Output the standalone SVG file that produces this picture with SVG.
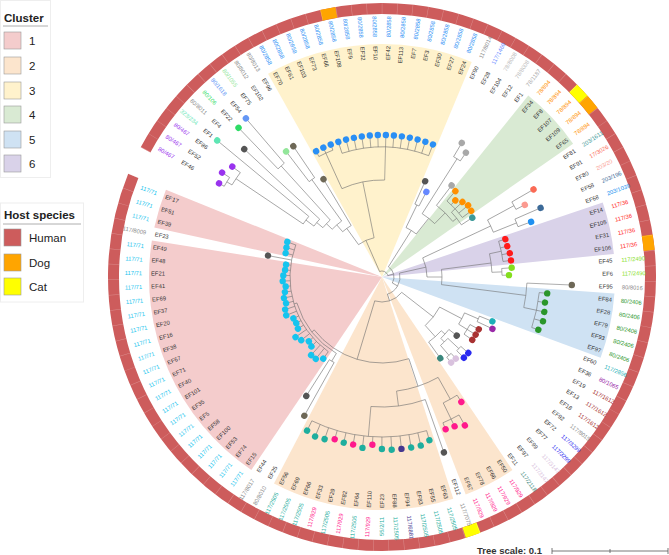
<svg xmlns="http://www.w3.org/2000/svg" width="669" height="555" viewBox="0 0 669 555">
<style>
.t{font-family:"Liberation Sans",Arial,sans-serif;font-size:5.8px}
.i{fill:#333}
.e2{text-anchor:end}
.ln{fill:none;stroke:#6e6e6e;stroke-width:.55}
.lg text{font-family:"Liberation Sans",Arial,sans-serif;font-size:11.5px;fill:#222}
.lg .hd{font-weight:bold}
.lg rect.k{stroke:#999;stroke-width:.6}
.seg{fill:none;stroke-width:11}
.dog{stroke:#ffa500}.cat{stroke:#ffff00}
.a{fill:#9933ee}.b{fill:#5ee6b4}.g{fill:#8a8a8a}.lgr{fill:#bbb}.lg2{fill:#a8a8a8}
.c{fill:#2edc66}.d{fill:#6497f5}.e{fill:#93e69a}.f{fill:#2a8ff5}.h{fill:#6688ff}
.o{fill:#ff9000}.tl{fill:#3f9a9a}.sa{fill:#fa6a55}.ls{fill:#fb9a90}.sb{fill:#3c6a98}
.bb{fill:#2090f0}.r{fill:#ff1a1a}.lm{fill:#84de1e}.dg{fill:#2a962a}.t2{fill:#1eb0b8}
.pu{fill:#9a2aa8}.brn{fill:#a83232}.bl{fill:#2a2af0}.lv{fill:#d9c2de}.t3{fill:#3a877c}
.pk{fill:#ff1a8c}.tq{fill:#1eae9e}.in{fill:#45388f}.cy{fill:#16c4ee}
.dk{fill:#555}.bgd{fill:#6e6857}
</style>
<rect width="669" height="555" fill="#fff"/>
<g transform="translate(382 277)">
<g id="wedges">
<path d="M0,0H233A233,233 0 0 1 98.87,210.98Z" transform="rotate(124.11)" fill="#f4cccc"/>
<path d="M0,0H233A233,233 0 0 1 229.64,39.4Z" transform="rotate(192.25)" fill="#f4cccc"/>
<path d="M0,0H233A233,233 0 0 1 227.05,52.34Z" transform="rotate(55.96)" fill="#fce5cd"/>
<path d="M0,0H233A233,233 0 0 1 163.52,165.98Z" transform="rotate(72.19)" fill="#fce5cd"/>
<path d="M0,0H233A233,233 0 0 1 143.72,183.39Z" transform="rotate(240.73)" fill="#fff2cc"/>
<path d="M0,0H233A233,233 0 0 1 223.72,65.11Z" transform="rotate(308.88)" fill="#d9ead3"/>
<path d="M0,0H233A233,233 0 0 1 223.72,65.11Z" transform="rotate(4.04)" fill="#cfe2f3"/>
<path d="M0,0H233A233,233 0 0 1 227.05,52.34Z" transform="rotate(341.33)" fill="#d9d2e9"/>
</g>
<g id="ring">
<circle r="268.5" fill="none" stroke="#cd5c5c" stroke-width="11" stroke-dasharray="1657.5 40" transform="rotate(208.28)"/>
<path class="seg dog" d="M268.39,-7.6A268.5,268.5 0 0 1 268.39,7.6" transform="rotate(258.58)"/>
<path class="seg cat" d="M268.39,-7.6A268.5,268.5 0 0 1 268.39,7.6" transform="rotate(316.99)"/>
<path class="seg dog" d="M268.39,-7.6A268.5,268.5 0 0 1 268.39,7.6" transform="rotate(320.23)"/>
<path class="seg dog" d="M268.39,-7.6A268.5,268.5 0 0 1 268.39,7.6" transform="rotate(352.68)"/>
<path class="seg cat" d="M268.39,-7.6A268.5,268.5 0 0 1 268.39,7.6" transform="rotate(70.56)"/>
<circle r="268.5" fill="none" stroke="#fff" stroke-opacity=".3" stroke-width="11" stroke-dasharray=".5 14.706" transform="rotate(208.28)"/>
</g>
<g id="connectors" class="ln">
<circle r="182" transform="rotate(209.9)" stroke-dasharray="10.32 2000"/>
<circle r="176" transform="rotate(211.53)" stroke-dasharray="15.02 2000"/>
<circle r="95" transform="rotate(213.95)" stroke-dasharray="9.43 2000"/>
<circle r="85" transform="rotate(216.8)" stroke-dasharray="9.02 2000"/>
<circle r="150" transform="rotate(226.13)" stroke-dasharray="8.48 2000"/>
<circle r="77" transform="rotate(219.84)" stroke-dasharray="10.63 2000"/>
<circle r="120" transform="rotate(232.62)" stroke-dasharray="6.79 2000"/>
<circle r="69" transform="rotate(223.8)" stroke-dasharray="12.57 2000"/>
<circle r="60" transform="rotate(229.02)" stroke-dasharray="10.57 2000"/>
<circle r="136" transform="rotate(242.35)" stroke-dasharray="15.4 2000"/>
<circle r="130" transform="rotate(252.09)" stroke-dasharray="88.35 2000"/>
<circle r="97" transform="rotate(245.6)" stroke-dasharray="43.95 2000"/>
<circle r="40" transform="rotate(234.07)" stroke-dasharray="17.12 2000"/>
<circle r="80" transform="rotate(294.27)" stroke-dasharray="4.54 2000"/>
<circle r="140" transform="rotate(300.76)" stroke-dasharray="7.94 2000"/>
<circle r="100" transform="rotate(310.5)" stroke-dasharray="22.65 2000"/>
<circle r="95" transform="rotate(317)" stroke-dasharray="16.12 2000"/>
<circle r="90" transform="rotate(307.25)" stroke-dasharray="23.01 2000"/>
<circle r="75" transform="rotate(302.4)" stroke-dasharray="15.97 2000"/>
<circle r="55" transform="rotate(295.9)" stroke-dasharray="12.1 2000"/>
<circle r="150" transform="rotate(329.97)" stroke-dasharray="8.48 2000"/>
<circle r="145" transform="rotate(336.46)" stroke-dasharray="8.2 2000"/>
<circle r="120" transform="rotate(331.6)" stroke-dasharray="13.61 2000"/>
<circle r="122" transform="rotate(342.95)" stroke-dasharray="20.72 2000"/>
<circle r="120" transform="rotate(355.93)" stroke-dasharray="6.79 2000"/>
<circle r="110" transform="rotate(347.8)" stroke-dasharray="18.72 2000"/>
<circle r="158" transform="rotate(365.66)" stroke-dasharray="35.79 2000"/>
<circle r="145" transform="rotate(362.42)" stroke-dasharray="24.62 2000"/>
<circle r="60" transform="rotate(352.7)" stroke-dasharray="15.29 2000"/>
<circle r="45" transform="rotate(334.85)" stroke-dasharray="19.75 2000"/>
<circle r="105" transform="rotate(381.89)" stroke-dasharray="5.94 2000"/>
<circle r="100" transform="rotate(388.38)" stroke-dasharray="11.33 2000"/>
<circle r="105" transform="rotate(401.36)" stroke-dasharray="5.94 2000"/>
<circle r="103" transform="rotate(407.85)" stroke-dasharray="5.82 2000"/>
<circle r="90" transform="rotate(402.98)" stroke-dasharray="10.19 2000"/>
<circle r="85" transform="rotate(398.11)" stroke-dasharray="12 2000"/>
<circle r="80" transform="rotate(402.2)" stroke-dasharray="16.95 2000"/>
<circle r="90" transform="rotate(383.51)" stroke-dasharray="12.72 2000"/>
<circle r="65" transform="rotate(387.57)" stroke-dasharray="23.48 2000"/>
<circle r="158" transform="rotate(420.83)" stroke-dasharray="17.9 2000"/>
<circle r="140" transform="rotate(417.58)" stroke-dasharray="15.86 2000"/>
<circle r="160" transform="rotate(433.81)" stroke-dasharray="117.79 2000"/>
<circle r="130" transform="rotate(430.56)" stroke-dasharray="55.23 2000"/>
<circle r="115" transform="rotate(420.8)" stroke-dasharray="43.96 2000"/>
<circle r="98" transform="rotate(479.24)" stroke-dasharray="5.54 2000"/>
<circle r="92" transform="rotate(485.73)" stroke-dasharray="119.83 2000"/>
<circle r="89" transform="rotate(480.86)" stroke-dasharray="65.46 2000"/>
<circle r="86" transform="rotate(431.77)" stroke-dasharray="105.31 2000"/>
<circle r="25" transform="rotate(397.9)" stroke-dasharray="30.08 2000"/>
<circle r="18" transform="rotate(347.4)" stroke-dasharray="26.7 2000"/>
<circle r="12" transform="rotate(302.2)" stroke-dasharray="18.37 2000"/>
<circle r="6" transform="rotate(246.3)" stroke-dasharray="10.45 2000"/>
<path d="M176,0H182" transform="rotate(211.53)"/>
<path d="M95,0H176" transform="rotate(213.95)"/>
<path d="M85,0H95" transform="rotate(216.8)"/>
<path d="M77,0H85" transform="rotate(219.84)"/>
<path d="M77,0H150" transform="rotate(227.75)"/>
<path d="M69,0H77" transform="rotate(223.8)"/>
<path d="M69,0H120" transform="rotate(234.24)"/>
<path d="M60,0H69" transform="rotate(229.02)"/>
<path d="M40,0H60" transform="rotate(234.07)"/>
<path d="M97,0H136" transform="rotate(245.6)"/>
<path d="M97,0H130" transform="rotate(271.56)"/>
<path d="M40,0H97" transform="rotate(258.58)"/>
<path d="M6,0H40" transform="rotate(246.3)"/>
<path d="M55,0H80" transform="rotate(295.9)"/>
<path d="M75,0H140" transform="rotate(302.4)"/>
<path d="M95,0H100" transform="rotate(317)"/>
<path d="M90,0H95" transform="rotate(321.86)"/>
<path d="M75,0H90" transform="rotate(314.6)"/>
<path d="M55,0H75" transform="rotate(308.5)"/>
<path d="M12,0H55" transform="rotate(302.2)"/>
<path d="M120,0H150" transform="rotate(331.6)"/>
<path d="M120,0H145" transform="rotate(338.1)"/>
<path d="M45,0H120" transform="rotate(334.85)"/>
<path d="M110,0H122" transform="rotate(347.8)"/>
<path d="M110,0H120" transform="rotate(357.55)"/>
<path d="M60,0H110" transform="rotate(352.7)"/>
<path d="M145,0H158" transform="rotate(372.15)"/>
<path d="M60,0H145" transform="rotate(367.3)"/>
<path d="M45,0H60" transform="rotate(360)"/>
<path d="M18,0H45" transform="rotate(347.4)"/>
<path d="M90,0H105" transform="rotate(383.51)"/>
<path d="M90,0H100" transform="rotate(391.62)"/>
<path d="M65,0H90" transform="rotate(387.57)"/>
<path d="M90,0H105" transform="rotate(402.98)"/>
<path d="M90,0H103" transform="rotate(409.47)"/>
<path d="M85,0H90" transform="rotate(406.2)"/>
<path d="M80,0H85" transform="rotate(402.2)"/>
<path d="M65,0H80" transform="rotate(408.27)"/>
<path d="M25,0H65" transform="rotate(397.9)"/>
<path d="M140,0H158" transform="rotate(424.07)"/>
<path d="M115,0H140" transform="rotate(420.8)"/>
<path d="M130,0H160" transform="rotate(454.9)"/>
<path d="M115,0H130" transform="rotate(442.73)"/>
<path d="M86,0H115" transform="rotate(431.77)"/>
<path d="M89,0H98" transform="rotate(480.86)"/>
<path d="M89,0H92" transform="rotate(523)"/>
<path d="M86,0H89" transform="rotate(501.93)"/>
<path d="M25,0H86" transform="rotate(466.85)"/>
<path d="M18,0H25" transform="rotate(432.38)"/>
<path d="M12,0H18" transform="rotate(389.89)"/>
<path d="M6,0H12" transform="rotate(346.05)"/>
<path d="M182,0H188" transform="rotate(209.9)"/>
<path d="M182,0H191" transform="rotate(213.15)"/>
<path d="M176,0H186" transform="rotate(216.39)"/>
<path d="M95,0H214" transform="rotate(219.64)"/>
<path d="M85,0H188" transform="rotate(222.88)"/>
<path d="M150,0H207" transform="rotate(226.13)"/>
<path d="M150,0H209" transform="rotate(229.37)"/>
<path d="M120,0H158" transform="rotate(232.62)"/>
<path d="M120,0H158" transform="rotate(235.86)"/>
<path d="M60,0H114" transform="rotate(239.11)"/>
<path d="M136,0H142" transform="rotate(242.35)"/>
<path d="M136,0H142" transform="rotate(245.6)"/>
<path d="M136,0H142" transform="rotate(248.84)"/>
<path d="M130,0H142" transform="rotate(252.09)"/>
<path d="M130,0H142" transform="rotate(255.33)"/>
<path d="M130,0H142" transform="rotate(258.58)"/>
<path d="M130,0H142" transform="rotate(261.82)"/>
<path d="M130,0H142" transform="rotate(265.07)"/>
<path d="M130,0H142" transform="rotate(268.31)"/>
<path d="M130,0H142" transform="rotate(271.56)"/>
<path d="M130,0H142" transform="rotate(274.8)"/>
<path d="M130,0H142" transform="rotate(278.05)"/>
<path d="M130,0H142" transform="rotate(281.29)"/>
<path d="M130,0H142" transform="rotate(284.54)"/>
<path d="M130,0H142" transform="rotate(287.78)"/>
<path d="M130,0H142" transform="rotate(291.03)"/>
<path d="M80,0H105" transform="rotate(294.27)"/>
<path d="M80,0H96" transform="rotate(297.52)"/>
<path d="M140,0H156" transform="rotate(300.76)"/>
<path d="M140,0H150" transform="rotate(304.01)"/>
<path d="M90,0H115" transform="rotate(307.25)"/>
<path d="M100,0H113" transform="rotate(310.5)"/>
<path d="M100,0H106" transform="rotate(313.74)"/>
<path d="M100,0H110" transform="rotate(316.99)"/>
<path d="M100,0H112" transform="rotate(320.23)"/>
<path d="M100,0H111" transform="rotate(323.48)"/>
<path d="M95,0H108" transform="rotate(326.72)"/>
<path d="M150,0H175" transform="rotate(329.97)"/>
<path d="M150,0H160" transform="rotate(333.21)"/>
<path d="M145,0H173" transform="rotate(336.46)"/>
<path d="M145,0H159" transform="rotate(339.7)"/>
<path d="M122,0H129" transform="rotate(342.95)"/>
<path d="M122,0H129" transform="rotate(346.19)"/>
<path d="M122,0H130" transform="rotate(349.44)"/>
<path d="M122,0H130" transform="rotate(352.68)"/>
<path d="M120,0H130" transform="rotate(355.93)"/>
<path d="M120,0H127" transform="rotate(359.17)"/>
<path d="M145,0H190" transform="rotate(362.42)"/>
<path d="M158,0H166" transform="rotate(365.66)"/>
<path d="M158,0H165" transform="rotate(368.91)"/>
<path d="M158,0H166" transform="rotate(372.15)"/>
<path d="M158,0H167" transform="rotate(375.4)"/>
<path d="M158,0H165" transform="rotate(378.64)"/>
<path d="M105,0H119" transform="rotate(381.89)"/>
<path d="M105,0H122" transform="rotate(385.13)"/>
<path d="M100,0H110" transform="rotate(388.38)"/>
<path d="M100,0H110" transform="rotate(391.62)"/>
<path d="M100,0H110" transform="rotate(394.87)"/>
<path d="M85,0H95" transform="rotate(398.11)"/>
<path d="M105,0H115" transform="rotate(401.36)"/>
<path d="M105,0H115" transform="rotate(404.6)"/>
<path d="M103,0H110" transform="rotate(407.85)"/>
<path d="M103,0H110" transform="rotate(411.09)"/>
<path d="M80,0H100" transform="rotate(414.34)"/>
<path d="M140,0H148" transform="rotate(417.58)"/>
<path d="M158,0H170" transform="rotate(420.83)"/>
<path d="M158,0H166" transform="rotate(424.07)"/>
<path d="M158,0H165" transform="rotate(427.32)"/>
<path d="M130,0H186" transform="rotate(430.56)"/>
<path d="M160,0H170" transform="rotate(433.81)"/>
<path d="M160,0H173" transform="rotate(437.05)"/>
<path d="M160,0H173" transform="rotate(440.3)"/>
<path d="M160,0H173" transform="rotate(443.54)"/>
<path d="M160,0H173" transform="rotate(446.79)"/>
<path d="M160,0H172" transform="rotate(450.03)"/>
<path d="M160,0H168" transform="rotate(453.28)"/>
<path d="M160,0H172" transform="rotate(456.52)"/>
<path d="M160,0H170" transform="rotate(459.77)"/>
<path d="M160,0H170" transform="rotate(463.01)"/>
<path d="M160,0H169" transform="rotate(466.26)"/>
<path d="M160,0H172" transform="rotate(469.5)"/>
<path d="M160,0H173" transform="rotate(472.75)"/>
<path d="M160,0H171" transform="rotate(475.99)"/>
<path d="M98,0H159" transform="rotate(479.24)"/>
<path d="M98,0H141" transform="rotate(482.48)"/>
<path d="M92,0H100.6" transform="rotate(125.73)"/>
<path d="M92,0H105.3" transform="rotate(128.97)"/>
<path d="M92,0H105.5" transform="rotate(132.22)"/>
<path d="M92,0H99" transform="rotate(135.46)"/>
<path d="M92,0H97.4" transform="rotate(138.71)"/>
<path d="M92,0H102.6" transform="rotate(141.95)"/>
<path d="M92,0H105.3" transform="rotate(145.2)"/>
<path d="M92,0H98.7" transform="rotate(148.44)"/>
<path d="M92,0H97.4" transform="rotate(151.69)"/>
<path d="M92,0H97.8" transform="rotate(154.93)"/>
<path d="M92,0H103.2" transform="rotate(158.18)"/>
<path d="M92,0H102.2" transform="rotate(161.42)"/>
<path d="M92,0H99.5" transform="rotate(164.67)"/>
<path d="M92,0H100.3" transform="rotate(167.91)"/>
<path d="M92,0H98.3" transform="rotate(171.16)"/>
<path d="M92,0H96.8" transform="rotate(174.4)"/>
<path d="M92,0H99.4" transform="rotate(177.65)"/>
<path d="M92,0H98.7" transform="rotate(180.89)"/>
<path d="M92,0H97.2" transform="rotate(184.14)"/>
<path d="M92,0H96.7" transform="rotate(187.38)"/>
<path d="M92,0H116" transform="rotate(190.63)"/>
<path d="M92,0H99.3" transform="rotate(193.87)"/>
<path d="M92,0H100" transform="rotate(197.12)"/>
<path d="M92,0H101" transform="rotate(200.36)"/>
</g>
<g id="leaves">
<g id="n1" transform="rotate(29.9)"><circle cx="-188" r="3.2" class="a"/><text class="t i" x="-231" y="2">EF46</text><text class="t a e2" x="-240" y="2">80/467</text></g>
<g id="n2" transform="rotate(33.15)"><circle cx="-191" r="3.2" class="a"/><text class="t i" x="-231" y="2">EF52</text><text class="t a e2" x="-240" y="2">80/467</text></g>
<g id="n3" transform="rotate(36.39)"><circle cx="-186" r="3.2" class="a"/><text class="t i" x="-231" y="2">EF86</text><text class="t a e2" x="-240" y="2">80/467</text></g>
<g id="n4" transform="rotate(39.64)"><circle cx="-214" r="3.2" class="b"/><text class="t i" x="-231" y="2">EF1</text><text class="t b e2" x="-240" y="2">323/234</text></g>
<g id="n5" transform="rotate(42.88)"><circle cx="-188" r="3.2" class="dk"/><text class="t i" x="-231" y="2">EF4</text><text class="t g e2" x="-240" y="2">80/8011</text></g>
<g id="n6" transform="rotate(46.13)"><circle cx="-207" r="3.2" class="c"/><text class="t i" x="-231" y="2">EF22</text><text class="t c e2" x="-240" y="2">80/106</text></g>
<g id="n7" transform="rotate(49.37)"><circle cx="-209" r="3.2" class="d"/><text class="t i" x="-231" y="2">EF54</text><text class="t d e2" x="-240" y="2">80/1618</text></g>
<g id="n8" transform="rotate(52.62)"><circle cx="-158" r="3.2" class="e"/><text class="t i" x="-231" y="2">EF75</text><text class="t e e2" x="-240" y="2">80/1055</text></g>
<g id="n9" transform="rotate(55.86)"><circle cx="-158" r="3.2" class="bgd"/><text class="t i" x="-231" y="2">EF102</text><text class="t g e2" x="-240" y="2">80/8012</text></g>
<g id="n10" transform="rotate(59.11)"><circle cx="-114" r="3.2" class="bgd"/><text class="t i" x="-231" y="2">EF96</text><text class="t g e2" x="-240" y="2">80/8013</text></g>
<g id="n11" transform="rotate(62.35)"><circle cx="-142" r="3.2" class="f"/><text class="t i" x="-231" y="2">EF70</text><text class="t f e2" x="-240" y="2">80/2858</text></g>
<g id="n12" transform="rotate(65.6)"><circle cx="-142" r="3.2" class="f"/><text class="t i" x="-231" y="2">EF61</text><text class="t f e2" x="-240" y="2">80/2858</text></g>
<g id="n13" transform="rotate(68.84)"><circle cx="-142" r="3.2" class="f"/><text class="t i" x="-231" y="2">EF103</text><text class="t f e2" x="-240" y="2">80/2858</text></g>
<g id="n14" transform="rotate(72.09)"><circle cx="-142" r="3.2" class="f"/><text class="t i" x="-231" y="2">EF73</text><text class="t f e2" x="-240" y="2">80/2858</text></g>
<g id="n15" transform="rotate(75.33)"><circle cx="-142" r="3.2" class="f"/><text class="t i" x="-231" y="2">EF66</text><text class="t f e2" x="-240" y="2">80/2858</text></g>
<g id="n16" transform="rotate(78.58)"><circle cx="-142" r="3.2" class="f"/><text class="t i" x="-231" y="2">EF108</text><text class="t f e2" x="-240" y="2">80/2858</text></g>
<g id="n17" transform="rotate(81.82)"><circle cx="-142" r="3.2" class="f"/><text class="t i" x="-231" y="2">EF9</text><text class="t f e2" x="-240" y="2">80/2858</text></g>
<g id="n18" transform="rotate(85.07)"><circle cx="-142" r="3.2" class="f"/><text class="t i" x="-231" y="2">EF32</text><text class="t f e2" x="-240" y="2">80/2858</text></g>
<g id="n19" transform="rotate(88.31)"><circle cx="-142" r="3.2" class="f"/><text class="t i" x="-231" y="2">EF10</text><text class="t f e2" x="-240" y="2">80/2858</text></g>
<g id="n20" transform="rotate(-88.44)"><circle cx="142" r="3.2" class="f"/><text class="t i e2" x="231" y="2">EF42</text><text class="t f" x="240" y="2">80/2858</text></g>
<g id="n21" transform="rotate(-85.2)"><circle cx="142" r="3.2" class="f"/><text class="t i e2" x="231" y="2">EF113</text><text class="t f" x="240" y="2">80/2858</text></g>
<g id="n22" transform="rotate(-81.95)"><circle cx="142" r="3.2" class="f"/><text class="t i e2" x="231" y="2">EF7</text><text class="t f" x="240" y="2">80/2858</text></g>
<g id="n23" transform="rotate(-78.71)"><circle cx="142" r="3.2" class="f"/><text class="t i e2" x="231" y="2">EF3</text><text class="t f" x="240" y="2">80/2858</text></g>
<g id="n24" transform="rotate(-75.46)"><circle cx="142" r="3.2" class="f"/><text class="t i e2" x="231" y="2">EF30</text><text class="t f" x="240" y="2">80/2858</text></g>
<g id="n25" transform="rotate(-72.22)"><circle cx="142" r="3.2" class="f"/><text class="t i e2" x="231" y="2">EF27</text><text class="t f" x="240" y="2">80/2858</text></g>
<g id="n26" transform="rotate(-68.97)"><circle cx="142" r="3.2" class="f"/><text class="t i e2" x="231" y="2">EF24</text><text class="t f" x="240" y="2">80/2858</text></g>
<g id="n27" transform="rotate(-65.73)"><circle cx="105" r="3.2" class="dk"/><text class="t i e2" x="231" y="2">EF90</text><text class="t g" x="240" y="2">117/8014</text></g>
<g id="n28" transform="rotate(-62.48)"><circle cx="96" r="3.2" class="h"/><text class="t i e2" x="231" y="2">EF28</text><text class="t h" x="240" y="2">117/1469</text></g>
<g id="n29" transform="rotate(-59.24)"><circle cx="156" r="3.2" class="lg2"/><text class="t i e2" x="231" y="2">EF104</text><text class="t lgr" x="240" y="2">78/8008</text></g>
<g id="n30" transform="rotate(-55.99)"><circle cx="150" r="3.2" class="lg2"/><text class="t i e2" x="231" y="2">EF12</text><text class="t lgr" x="240" y="2">78/8008</text></g>
<g id="n31" transform="rotate(-52.75)"><circle cx="115" r="3.2" class="lg2"/><text class="t i e2" x="231" y="2">EF1</text><text class="t lg2" x="240" y="2">78/1187</text></g>
<g id="n32" transform="rotate(-49.5)"><circle cx="113" r="3.2" class="o"/><text class="t i e2" x="231" y="2">EF34</text><text class="t o" x="240" y="2">78/894</text></g>
<g id="n33" transform="rotate(-46.26)"><circle cx="106" r="3.2" class="o"/><text class="t i e2" x="231" y="2">EF8</text><text class="t o" x="240" y="2">78/894</text></g>
<g id="n34" transform="rotate(-43.01)"><circle cx="110" r="3.2" class="o"/><text class="t i e2" x="231" y="2">EF107</text><text class="t o" x="240" y="2">78/894</text></g>
<g id="n35" transform="rotate(-39.77)"><circle cx="112" r="3.2" class="o"/><text class="t i e2" x="231" y="2">EF109</text><text class="t o" x="240" y="2">78/894</text></g>
<g id="n36" transform="rotate(-36.52)"><circle cx="111" r="3.2" class="o"/><text class="t i e2" x="231" y="2">EF65</text><text class="t o" x="240" y="2">78/894</text></g>
<g id="n37" transform="rotate(-33.28)"><circle cx="108" r="3.2" class="tl"/><text class="t i e2" x="231" y="2">EF81</text><text class="t tl" x="240" y="2">203/1611</text></g>
<g id="n38" transform="rotate(-30.03)"><circle cx="175" r="3.2" class="sa"/><text class="t i e2" x="231" y="2">EF91</text><text class="t sa" x="240" y="2">17/3026</text></g>
<g id="n39" transform="rotate(-26.79)"><circle cx="160" r="3.2" class="ls"/><text class="t i e2" x="231" y="2">EF80</text><text class="t ls" x="240" y="2">203/20</text></g>
<g id="n40" transform="rotate(-23.54)"><circle cx="173" r="3.2" class="sb"/><text class="t i e2" x="231" y="2">EF58</text><text class="t sb" x="240" y="2">203/196</text></g>
<g id="n41" transform="rotate(-20.3)"><circle cx="159" r="3.2" class="bb"/><text class="t i e2" x="231" y="2">EF68</text><text class="t bb" x="240" y="2">203/1039</text></g>
<g id="n42" transform="rotate(-17.05)"><circle cx="129" r="3.2" class="r"/><text class="t i e2" x="231" y="2">EF14</text><text class="t r" x="240" y="2">117/36</text></g>
<g id="n43" transform="rotate(-13.81)"><circle cx="129" r="3.2" class="r"/><text class="t i e2" x="231" y="2">EF105</text><text class="t r" x="240" y="2">117/36</text></g>
<g id="n44" transform="rotate(-10.56)"><circle cx="130" r="3.2" class="r"/><text class="t i e2" x="231" y="2">EF31</text><text class="t r" x="240" y="2">117/36</text></g>
<g id="n45" transform="rotate(-7.32)"><circle cx="130" r="3.2" class="r"/><text class="t i e2" x="231" y="2">EF106</text><text class="t r" x="240" y="2">117/36</text></g>
<g id="n46" transform="rotate(-4.07)"><circle cx="130" r="3.2" class="lm"/><text class="t i e2" x="231" y="2">EF45</text><text class="t lm" x="240" y="2">117/2490</text></g>
<g id="n47" transform="rotate(-0.83)"><circle cx="127" r="3.2" class="lm"/><text class="t i e2" x="231" y="2">EF6</text><text class="t lm" x="240" y="2">117/2490</text></g>
<g id="n48" transform="rotate(2.42)"><circle cx="190" r="3.2" class="bgd"/><text class="t i e2" x="231" y="2">EF95</text><text class="t g" x="240" y="2">80/8016</text></g>
<g id="n49" transform="rotate(5.66)"><circle cx="166" r="3.2" class="dg"/><text class="t i e2" x="231" y="2">EF84</text><text class="t dg" x="240" y="2">80/2406</text></g>
<g id="n50" transform="rotate(8.91)"><circle cx="165" r="3.2" class="dg"/><text class="t i e2" x="231" y="2">EF28</text><text class="t dg" x="240" y="2">80/2406</text></g>
<g id="n51" transform="rotate(12.15)"><circle cx="166" r="3.2" class="dg"/><text class="t i e2" x="231" y="2">EF79</text><text class="t dg" x="240" y="2">80/2406</text></g>
<g id="n52" transform="rotate(15.4)"><circle cx="167" r="3.2" class="dg"/><text class="t i e2" x="231" y="2">EF93</text><text class="t dg" x="240" y="2">80/2406</text></g>
<g id="n53" transform="rotate(18.64)"><circle cx="165" r="3.2" class="dg"/><text class="t i e2" x="231" y="2">EF97</text><text class="t dg" x="240" y="2">80/2406</text></g>
<g id="n54" transform="rotate(21.89)"><circle cx="119" r="3.2" class="t2"/><text class="t i e2" x="231" y="2">EF60</text><text class="t t2" x="240" y="2">117/2856</text></g>
<g id="n55" transform="rotate(25.13)"><circle cx="122" r="3.2" class="pu"/><text class="t i e2" x="231" y="2">EF36</text><text class="t pu" x="240" y="2">80/1065</text></g>
<g id="n56" transform="rotate(28.38)"><circle cx="110" r="3.2" class="brn"/><text class="t i e2" x="231" y="2">EF19</text><text class="t brn" x="240" y="2">117/1612</text></g>
<g id="n57" transform="rotate(31.62)"><circle cx="110" r="3.2" class="brn"/><text class="t i e2" x="231" y="2">EF13</text><text class="t brn" x="240" y="2">117/1612</text></g>
<g id="n58" transform="rotate(34.87)"><circle cx="110" r="3.2" class="brn"/><text class="t i e2" x="231" y="2">EF18</text><text class="t brn" x="240" y="2">117/1612</text></g>
<g id="n59" transform="rotate(38.11)"><circle cx="95" r="3.2" class="dk"/><text class="t i e2" x="231" y="2">EF92</text><text class="t g" x="240" y="2">117/8015</text></g>
<g id="n60" transform="rotate(41.36)"><circle cx="115" r="3.2" class="bl"/><text class="t i e2" x="231" y="2">EF72</text><text class="t bl" x="240" y="2">117/3299</text></g>
<g id="n61" transform="rotate(44.6)"><circle cx="115" r="3.2" class="bl"/><text class="t i e2" x="231" y="2">EF77</text><text class="t bl" x="240" y="2">117/3299</text></g>
<g id="n62" transform="rotate(47.85)"><circle cx="110" r="3.2" class="lv"/><text class="t i e2" x="231" y="2">EF99</text><text class="t lv" x="240" y="2">117/3147</text></g>
<g id="n63" transform="rotate(51.09)"><circle cx="110" r="3.2" class="lv"/><text class="t i e2" x="231" y="2">EF97</text><text class="t lv" x="240" y="2">117/3147</text></g>
<g id="n64" transform="rotate(54.34)"><circle cx="100" r="3.2" class="t3"/><text class="t i e2" x="231" y="2">EF11</text><text class="t t3" x="240" y="2">117/2118</text></g>
<g id="n65" transform="rotate(57.58)"><circle cx="148" r="3.2" class="pk"/><text class="t i e2" x="231" y="2">EF50</text><text class="t pk" x="240" y="2">117/929</text></g>
<g id="n66" transform="rotate(60.83)"><circle cx="170" r="3.2" class="pk"/><text class="t i e2" x="231" y="2">EF66</text><text class="t pk" x="240" y="2">117/929</text></g>
<g id="n67" transform="rotate(64.07)"><circle cx="166" r="3.2" class="pk"/><text class="t i e2" x="231" y="2">EF78</text><text class="t pk" x="240" y="2">117/929</text></g>
<g id="n68" transform="rotate(67.32)"><circle cx="165" r="3.2" class="pk"/><text class="t i e2" x="231" y="2">EF67</text><text class="t pk" x="240" y="2">117/929</text></g>
<g id="n69" transform="rotate(70.56)"><circle cx="186" r="3.2" class="dk"/><text class="t i e2" x="231" y="2">EF112</text><text class="t g" x="240" y="2">117/7075</text></g>
<g id="n70" transform="rotate(73.81)"><circle cx="170" r="3.2" class="tq"/><text class="t i e2" x="231" y="2">EF63</text><text class="t tq" x="240" y="2">117/2505</text></g>
<g id="n71" transform="rotate(77.05)"><circle cx="173" r="3.2" class="tq"/><text class="t i e2" x="231" y="2">EF55</text><text class="t tq" x="240" y="2">117/2505</text></g>
<g id="n72" transform="rotate(80.3)"><circle cx="173" r="3.2" class="tq"/><text class="t i e2" x="231" y="2">EF83</text><text class="t tq" x="240" y="2">117/2505</text></g>
<g id="n73" transform="rotate(83.54)"><circle cx="173" r="3.2" class="in"/><text class="t i e2" x="231" y="2">EF94</text><text class="t in" x="240" y="2">117/6881</text></g>
<g id="n74" transform="rotate(86.79)"><circle cx="173" r="3.2" class="tq"/><text class="t i e2" x="231" y="2">EF88</text><text class="t tq" x="240" y="2">117/2505</text></g>
<g id="n75" transform="rotate(-89.97)"><circle cx="-172" r="3.2" class="tq"/><text class="t i" x="-231" y="2">EF23</text><text class="t tq e2" x="-240" y="2">55/2/11</text></g>
<g id="n76" transform="rotate(-86.72)"><circle cx="-168" r="3.2" class="pk"/><text class="t i" x="-231" y="2">EF110</text><text class="t pk e2" x="-240" y="2">117/929</text></g>
<g id="n77" transform="rotate(-83.48)"><circle cx="-172" r="3.2" class="tq"/><text class="t i" x="-231" y="2">EF64</text><text class="t tq e2" x="-240" y="2">117/2505</text></g>
<g id="n78" transform="rotate(-80.23)"><circle cx="-170" r="3.2" class="pk"/><text class="t i" x="-231" y="2">EF82</text><text class="t pk e2" x="-240" y="2">117/929</text></g>
<g id="n79" transform="rotate(-76.99)"><circle cx="-170" r="3.2" class="tq"/><text class="t i" x="-231" y="2">EF29</text><text class="t tq e2" x="-240" y="2">117/2505</text></g>
<g id="n80" transform="rotate(-73.74)"><circle cx="-169" r="3.2" class="pk"/><text class="t i" x="-231" y="2">EF33</text><text class="t pk e2" x="-240" y="2">117/929</text></g>
<g id="n81" transform="rotate(-70.5)"><circle cx="-172" r="3.2" class="tq"/><text class="t i" x="-231" y="2">EF66</text><text class="t tq e2" x="-240" y="2">117/2505</text></g>
<g id="n82" transform="rotate(-67.25)"><circle cx="-173" r="3.2" class="tq"/><text class="t i" x="-231" y="2">EF69</text><text class="t tq e2" x="-240" y="2">117/2505</text></g>
<g id="n83" transform="rotate(-64.01)"><circle cx="-171" r="3.2" class="tq"/><text class="t i" x="-231" y="2">EF56</text><text class="t tq e2" x="-240" y="2">117/2505</text></g>
<g id="n84" transform="rotate(-60.76)"><circle cx="-159" r="3.2" class="bgd"/><text class="t i" x="-231" y="2">EF25</text><text class="t g e2" x="-240" y="2">80/8010</text></g>
<g id="n85" transform="rotate(-57.52)"><circle cx="-141" r="3.2" class="dk"/><text class="t i" x="-231" y="2">EF44</text><text class="t g e2" x="-240" y="2">117/8017</text></g>
<g id="n86" transform="rotate(-54.27)"><circle cx="-100.6" r="3.2" class="cy"/><text class="t i" x="-231" y="2">EF15</text><text class="t cy e2" x="-240" y="2">117/71</text></g>
<g id="n87" transform="rotate(-51.03)"><circle cx="-105.3" r="3.2" class="cy"/><text class="t i" x="-231" y="2">EF74</text><text class="t cy e2" x="-240" y="2">117/71</text></g>
<g id="n88" transform="rotate(-47.78)"><circle cx="-105.5" r="3.2" class="cy"/><text class="t i" x="-231" y="2">EF53</text><text class="t cy e2" x="-240" y="2">117/71</text></g>
<g id="n89" transform="rotate(-44.54)"><circle cx="-99" r="3.2" class="cy"/><text class="t i" x="-231" y="2">EF100</text><text class="t cy e2" x="-240" y="2">117/71</text></g>
<g id="n90" transform="rotate(-41.29)"><circle cx="-97.4" r="3.2" class="cy"/><text class="t i" x="-231" y="2">EF58</text><text class="t cy e2" x="-240" y="2">117/71</text></g>
<g id="n91" transform="rotate(-38.05)"><circle cx="-102.6" r="3.2" class="cy"/><text class="t i" x="-231" y="2">EF5</text><text class="t cy e2" x="-240" y="2">117/71</text></g>
<g id="n92" transform="rotate(-34.8)"><circle cx="-105.3" r="3.2" class="cy"/><text class="t i" x="-231" y="2">EF35</text><text class="t cy e2" x="-240" y="2">117/71</text></g>
<g id="n93" transform="rotate(-31.56)"><circle cx="-98.7" r="3.2" class="cy"/><text class="t i" x="-231" y="2">EF101</text><text class="t cy e2" x="-240" y="2">117/71</text></g>
<g id="n94" transform="rotate(-28.31)"><circle cx="-97.4" r="3.2" class="cy"/><text class="t i" x="-231" y="2">EF40</text><text class="t cy e2" x="-240" y="2">117/71</text></g>
<g id="n95" transform="rotate(-25.07)"><circle cx="-97.8" r="3.2" class="cy"/><text class="t i" x="-231" y="2">EF71</text><text class="t cy e2" x="-240" y="2">117/71</text></g>
<g id="n96" transform="rotate(-21.82)"><circle cx="-103.2" r="3.2" class="cy"/><text class="t i" x="-231" y="2">EF67</text><text class="t cy e2" x="-240" y="2">117/71</text></g>
<g id="n97" transform="rotate(-18.58)"><circle cx="-102.2" r="3.2" class="cy"/><text class="t i" x="-231" y="2">EF38</text><text class="t cy e2" x="-240" y="2">117/71</text></g>
<g id="n98" transform="rotate(-15.33)"><circle cx="-99.5" r="3.2" class="cy"/><text class="t i" x="-231" y="2">EF16</text><text class="t cy e2" x="-240" y="2">117/71</text></g>
<g id="n99" transform="rotate(-12.09)"><circle cx="-100.3" r="3.2" class="cy"/><text class="t i" x="-231" y="2">EF20</text><text class="t cy e2" x="-240" y="2">117/71</text></g>
<g id="n100" transform="rotate(-8.84)"><circle cx="-98.3" r="3.2" class="cy"/><text class="t i" x="-231" y="2">EF37</text><text class="t cy e2" x="-240" y="2">117/71</text></g>
<g id="n101" transform="rotate(-5.6)"><circle cx="-96.8" r="3.2" class="cy"/><text class="t i" x="-231" y="2">EF69</text><text class="t cy e2" x="-240" y="2">117/71</text></g>
<g id="n102" transform="rotate(-2.35)"><circle cx="-99.4" r="3.2" class="cy"/><text class="t i" x="-231" y="2">EF41</text><text class="t cy e2" x="-240" y="2">117/71</text></g>
<g id="n103" transform="rotate(0.89)"><circle cx="-98.7" r="3.2" class="cy"/><text class="t i" x="-231" y="2">EF21</text><text class="t cy e2" x="-240" y="2">117/71</text></g>
<g id="n104" transform="rotate(4.14)"><circle cx="-97.2" r="3.2" class="cy"/><text class="t i" x="-231" y="2">EF48</text><text class="t cy e2" x="-240" y="2">117/71</text></g>
<g id="n105" transform="rotate(7.38)"><circle cx="-96.7" r="3.2" class="cy"/><text class="t i" x="-231" y="2">EF49</text><text class="t cy e2" x="-240" y="2">117/71</text></g>
<g id="n106" transform="rotate(10.63)"><circle cx="-116" r="3.2" class="dk"/><text class="t i" x="-231" y="2">EF23</text><text class="t g e2" x="-240" y="2">117/8009</text></g>
<g id="n107" transform="rotate(13.87)"><circle cx="-99.3" r="3.2" class="cy"/><text class="t i" x="-231" y="2">EF39</text><text class="t cy e2" x="-240" y="2">117/71</text></g>
<g id="n108" transform="rotate(17.12)"><circle cx="-100" r="3.2" class="cy"/><text class="t i" x="-231" y="2">EF51</text><text class="t cy e2" x="-240" y="2">117/71</text></g>
<g id="n109" transform="rotate(20.36)"><circle cx="-101" r="3.2" class="cy"/><text class="t i" x="-231" y="2">EF17</text><text class="t cy e2" x="-240" y="2">117/71</text></g>
</g>
</g>
<g id="legend-cluster" class="lg">
<rect x="0.5" y="0.5" width="50" height="177" fill="#fff" stroke="#eee"/>
<text class="hd" x="4" y="21.5">Cluster</text>
<line x1="3" y1="26" x2="48" y2="26" stroke="#999" stroke-width=".8"/>
<rect class="k" x="4" y="32" width="17" height="17" fill="#f4cccc"/><text x="29" y="45">1</text>
<rect class="k" x="4" y="57" width="17" height="17" fill="#fce5cd"/><text x="29" y="70">2</text>
<rect class="k" x="4" y="82" width="17" height="17" fill="#fff2cc"/><text x="29" y="95">3</text>
<rect class="k" x="4" y="106" width="17" height="17" fill="#d9ead3"/><text x="29" y="119">4</text>
<rect class="k" x="4" y="131" width="17" height="17" fill="#cfe2f3"/><text x="29" y="144">5</text>
<rect class="k" x="4" y="155" width="17" height="17" fill="#d9d2e9"/><text x="29" y="168">6</text>
</g>
<g id="legend-host" class="lg">
<rect x="0.5" y="203" width="83" height="99" fill="#fff" stroke="#eee"/>
<text class="hd" x="4" y="218.5">Host species</text>
<line x1="3" y1="224" x2="81" y2="224" stroke="#999" stroke-width=".8"/>
<rect class="k" x="4" y="229" width="17" height="17" fill="#cd5c5c"/><text x="29" y="242">Human</text>
<rect class="k" x="4" y="254" width="17" height="17" fill="#ffa500"/><text x="29" y="267">Dog</text>
<rect class="k" x="4" y="278" width="17" height="17" fill="#ffff00"/><text x="29" y="291">Cat</text>
</g>
<g id="scale">
<text x="477" y="554" font-family="Liberation Sans, Arial, sans-serif" font-size="9.5" font-weight="bold" fill="#333">Tree scale: 0.1</text>
<path d="M552,551H668M552,548V554M610,549V553M668,548V554" fill="none" stroke="#555" stroke-width=".8"/>
</g>
</svg>
